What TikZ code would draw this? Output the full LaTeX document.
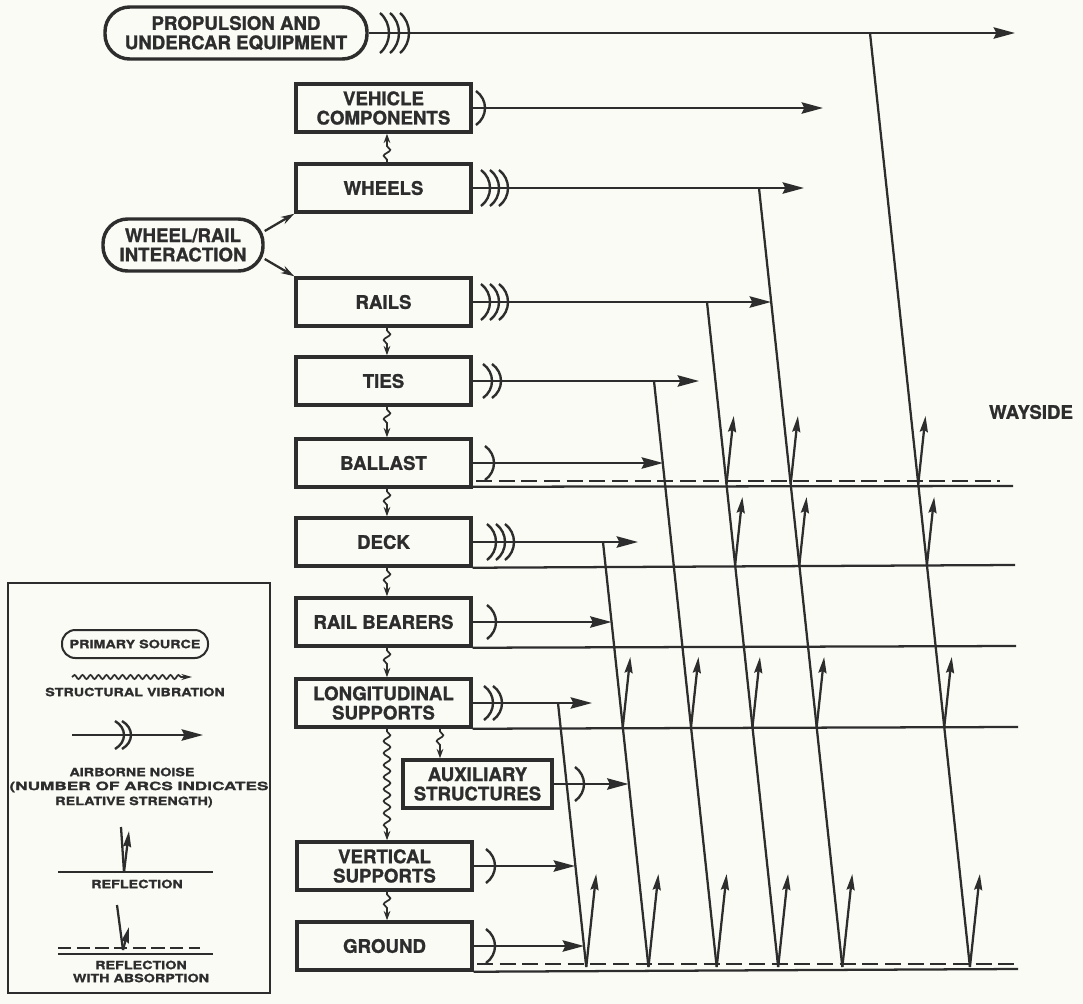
\documentclass[tikz,border=0pt]{standalone}
\usepackage{fontspec}
\setmainfont{TeX Gyre Heros}[BoldFeatures={FakeBold=1.2}]
\newfontfamily\legfont{TeX Gyre Heros}[FakeStretch=1.25,BoldFeatures={FakeBold=1.2}]
\newfontfamily\legwide{TeX Gyre Heros}[FakeStretch=1.5,BoldFeatures={FakeBold=1.2}]
\usetikzlibrary{arrows.meta,decorations.pathmorphing,calc}
\definecolor{ink}{RGB}{45,45,45}
\definecolor{paper}{RGB}{251,251,246}
\newcommand{\narc}[3]{\draw[noisearc] (#1,#2-#3) .. controls (#1+12,#2-#3/2) and (#1+12,#2+#3/2) .. (#1,#2+#3);}
\newcommand{\refl}[4]{\draw[reflarr] ({#1+0.107*(#3-#2)},#3) -- ++({0.107*#4},{-#4});}
\begin{document}
\begin{tikzpicture}[x=0.75pt,y=-0.75pt,
  box/.style={draw=ink, line width=2.6pt, minimum width=131.25pt, minimum height=36pt, inner sep=0pt, align=center, text=ink, font=\bfseries\fontsize{14}{14.5}\selectfont},
  oval/.style={box, rounded corners=18.5pt, minimum height=39pt},
  arr/.style={draw=ink, line width=1.7pt, -{Stealth[length=16pt,width=8.5pt,inset=2pt]}},
  ln/.style={draw=ink, line width=1.7pt},
  reflarr/.style={draw=ink, line width=1.7pt, -{Stealth[length=12pt,width=6pt,inset=1.5pt]}},
  noisearc/.style={draw=ink, line width=1.8pt},
  vib/.style={draw=ink, line width=1.3pt, decorate, decoration={snake, amplitude=2.5pt, segment length=9pt, pre length=2pt, post length=7pt}, -{Stealth[length=7pt,width=5pt]}},
  dashln/.style={draw=ink, line width=1.9pt, dash pattern=on 12pt off 5pt},
  legtext/.style={inner sep=0pt, text=ink, font=\legfont\bfseries\fontsize{8.6}{10}\selectfont},
]
\fill[paper] (0,0) rectangle (1083,1004);
\useasboundingbox (0,0) rectangle (1083,1004);

% ---------- nodes ----------
\node[oval, minimum width=196.5pt] (prop) at (236,33) {PROPULSION AND\\UNDERCAR EQUIPMENT};
\node[oval, minimum width=120pt] (wri) at (183,245) {WHEEL/RAIL\\INTERACTION};
\node[box] (veh) at (383.5,108) {VEHICLE\\COMPONENTS};
\node[box] (whe) at (383.5,188) {WHEELS};
\node[box] (rai) at (383.5,302) {RAILS};
\node[box] (tie) at (383.5,381) {TIES};
\node[box] (bal) at (383.5,463) {BALLAST};
\node[box] (dec) at (383.5,542) {DECK};
\node[box] (rbe) at (383.5,622) {RAIL BEARERS};
\node[box] (lon) at (383.5,703) {LONGITUDINAL\\SUPPORTS};
\node[box, minimum width=111.75pt] (aux) at (477.5,784) {AUXILIARY\\STRUCTURES};
\node[box] (ver) at (384.5,866) {VERTICAL\\SUPPORTS};
\node[box] (gro) at (384.5,946) {GROUND};
\node[text=ink, font=\bfseries\fontsize{14}{14.5}\selectfont, inner sep=0pt] (way) at (1031,412) {WAYSIDE};

% ---------- reflecting surfaces ----------
\draw[ln] (bal.south east) ++(0,-2) coordinate (l1a) -- (1013,486) coordinate (l1b);
\draw[dashln] (476,481) -- (1000,481);
\draw[ln] (dec.south east) -- (1015,565);
\draw[ln] (rbe.south east) -- (1016,646);
\draw[ln] (lon.south east) -- (1018,727);
\draw[ln] (gro.south east) -- (1018,969);
\draw[dashln] (477,964) -- (1015,964);

% ---------- slanted paths ----------
\coordinate (A0) at (870,33);  \coordinate (A1) at ({870+0.107*(967-33)},967);
\coordinate (B0) at (759,188); \coordinate (B1) at ({759+0.107*(967-188)},967);
\coordinate (C0) at (707,302); \coordinate (C1) at ({707+0.107*(967-302)},967);
\coordinate (D0) at (654,381); \coordinate (D1) at ({654+0.107*(967-381)},967);
\coordinate (E0) at (603,542); \coordinate (E1) at ({603+0.107*(967-542)},967);
\coordinate (F0) at (558,703); \coordinate (F1) at ({558+0.107*(967-703)},967);
\foreach \p in {A,B,C,D,E,F} {\draw[ln] (\p0) -- (\p1);}

% ---------- reflections ----------
\refl{870}{33}{484}{68}  \refl{759}{188}{484}{68}  \refl{707}{302}{484}{68}
\refl{870}{33}{565}{68}  \refl{759}{188}{565}{68}  \refl{707}{302}{565}{68}
\refl{870}{33}{727}{70}  \refl{759}{188}{727}{70}  \refl{707}{302}{727}{70}
\refl{654}{381}{727}{70} \refl{603}{542}{727}{70}
\refl{870}{33}{967}{93}  \refl{759}{188}{967}{93}  \refl{707}{302}{967}{93}
\refl{654}{381}{967}{93} \refl{603}{542}{967}{93}  \refl{558}{703}{967}{93}

% ---------- airborne noise arrows ----------
\coordinate (tP) at (1015,33);
\coordinate (tV) at (823,108);
\coordinate (tW) at (804,188);
\coordinate (tR) at (771,302);
\coordinate (tT) at (699,381);
\coordinate (tB) at (663,463);
\coordinate (tD) at (638,542);
\coordinate (tRB) at (611.5,622);
\coordinate (tL) at (592,703);
\coordinate (tAu) at (628.5,784);
\coordinate (tVe) at (575,866);
\coordinate (tG) at (584,946);
\draw[arr] (prop.east) -- (tP);
\draw[arr] (veh.east) -- (tV);
\draw[arr] (whe.east) -- (tW);
\draw[arr] (rai.east) -- (tR);
\draw[arr] (tie.east) -- (tT);
\draw[arr] (bal.east) -- (tB);
\draw[arr] (dec.east) -- (tD);
\draw[arr] (rbe.east) -- (tRB);
\draw[arr] (lon.east) -- (tL);
\draw[arr] (aux.east) -- (tAu);
\draw[arr] (ver.east) -- (tVe);
\draw[arr] (gro.east) -- (tG);

% noise arcs
\narc{380}{33}{20}\narc{390}{33}{20}\narc{400}{33}{20}
\narc{476}{108}{17}
\narc{481}{188}{18}\narc{490}{188}{18}\narc{499}{188}{18}
\narc{481}{302}{18}\narc{490}{302}{18}\narc{499}{302}{18}
\narc{483}{381}{17}\narc{492}{381}{17}
\narc{485}{463}{17}
\narc{487}{542}{18}\narc{496}{542}{18}\narc{505}{542}{18}
\narc{487}{622}{17}
\narc{484}{703}{17}\narc{493}{703}{17}
\narc{575}{784}{17}
\narc{486}{866}{17}
\narc{486}{946}{17}

% ---------- wheel/rail interaction ----------
\draw[draw=ink, line width=1.7pt, -{Stealth[length=10pt,width=6pt]}] ([yshift=10.5pt]wri.east) -- (whe.south west);
\draw[draw=ink, line width=1.7pt, -{Stealth[length=10pt,width=6pt]}] ([yshift=-10.5pt]wri.east) -- (rai.north west);

% ---------- structural vibration ----------
\coordinate (vx) at (440,0);
\draw[vib] ([xshift=2.6pt]whe.north) -- ([xshift=2.6pt]veh.south);
\draw[vib] ([xshift=2.6pt]rai.south) -- ([xshift=2.6pt]tie.north);
\draw[vib] ([xshift=2.6pt]tie.south) -- ([xshift=2.6pt]bal.north);
\draw[vib] ([xshift=2.6pt]bal.south) -- ([xshift=2.6pt]dec.north);
\draw[vib] ([xshift=2.6pt]dec.south) -- ([xshift=2.6pt]rbe.north);
\draw[vib] ([xshift=2.6pt]rbe.south) -- ([xshift=2.6pt]lon.north);
\draw[vib] (lon.south -| vx) -- (aux.north -| vx);
\draw[vib] ([xshift=2.6pt]lon.south) -- ([xshift=1.9pt]ver.north);
\draw[vib] ([xshift=1.9pt]ver.south) -- ([xshift=1.9pt]gro.north);

% ---------- legend ----------
\node[draw=ink, line width=1.7pt, minimum width=196.5pt, minimum height=307.5pt, inner sep=0pt] (leg) at (139,788) {};
\node[draw=ink, line width=1.5pt, rounded corners=10pt, minimum width=109.5pt, minimum height=21pt, inner sep=0pt, text=ink, font=\legfont\bfseries\fontsize{8.6}{10}\selectfont] (ps) at (135,644) {PRIMARY SOURCE};
\coordinate (sv0) at (72,677); \coordinate (sv1) at (192,677);
\draw[draw=ink, line width=1.3pt, decorate, decoration={snake, amplitude=1.5pt, segment length=6pt, post length=6pt}, -{Stealth[length=8pt,width=4.5pt]}] (sv0) -- (sv1);
\node[legtext] (t1) at (135,692) {STRUCTURAL VIBRATION};
\coordinate (an0) at (72,735); \coordinate (an1) at (203,735);
\draw[arr] (an0) -- (an1);
\narc{115}{735}{14}\narc{122}{735}{14}
\node[legtext] (t2) at (132,772) {AIRBORNE NOISE};
\node[legtext, font=\legwide\bfseries\fontsize{8.6}{10}\selectfont] (t3) at (139,787) {(NUMBER OF ARCS INDICATES};
\node[legtext] (t4) at (134,802) {RELATIVE STRENGTH)};
\draw[ln] (58,872) -- (213,872);
\coordinate (r0) at (121,827); \coordinate (rv) at (124,872); \coordinate (r1) at (129,831);
\draw[ln] (r0) -- (rv);
\draw[reflarr] (rv) -- (r1);
\node[legtext] (t5) at (137,884) {REFLECTION};
\draw[dashln, dash pattern=on 10pt off 4pt] (58,948) -- (200,948);
\draw[ln] (58,954) -- (213,954);
\coordinate (q0) at (117,905); \coordinate (qv) at (123,950); \coordinate (q1) at (129,927);
\draw[ln] (q0) -- (qv);
\draw[reflarr] (qv) -- (q1);
\node[legtext] (t6) at (141,965) {REFLECTION};
\node[legtext] (t7) at (141,978) {WITH ABSORPTION};
\end{tikzpicture}
\end{document}
